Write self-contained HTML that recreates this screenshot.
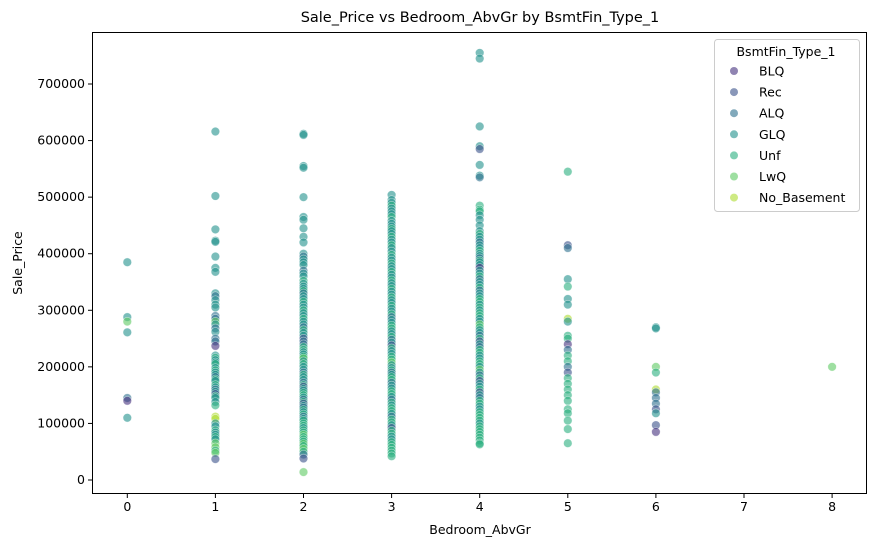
<!DOCTYPE html>
<html><head><meta charset="utf-8"><style>
body{margin:0;background:#fff;}
svg{font-family:"DejaVu Sans","Liberation Sans",sans-serif;}
</style></head><body>
<svg id="chart" width="877" height="547" viewBox="0 0 877 547" xmlns="http://www.w3.org/2000/svg">
<rect x="0" y="0" width="877" height="547" fill="#fff"/>
<text x="480" y="22" text-anchor="middle" font-size="14.5" fill="#000">Sale_Price vs Bedroom_AbvGr by BsmtFin_Type_1</text>
<g id="points"></g>
<g id="axes"></g>
<rect x="92.5" y="32.5" width="774" height="461" fill="none" stroke="#000" stroke-width="1"/>
<text x="480" y="534" text-anchor="middle" font-size="12.5" fill="#000">Bedroom_AbvGr</text>
<text x="22" y="263" text-anchor="middle" font-size="12.5" fill="#000" transform="rotate(-90 22 263)">Sale_Price</text>
<g id="legend">
<rect x="714.5" y="39.5" width="145" height="172" rx="3" fill="#fff" fill-opacity="0.8" stroke="#ccc"/>
<text x="786" y="56" text-anchor="middle" font-size="12.5" fill="#000">BsmtFin_Type_1</text>
</g>
</svg>
<script>
const categories = ["BLQ","Rec","ALQ","GLQ","Unf","LwQ","No_Basement"];
const categoryCodes = ["B","R","A","G","U","L","N"];
const palette = ["#46327e","#3b528b","#2d708e","#21918c","#29af7f","#5ec962","#addc30"];
const xTicks = [0,1,2,3,4,5,6,7,8];
const yTicks = [0,100000,200000,300000,400000,500000,600000,700000];
const bed0 = "385G 288G 280L 261G 145A 140B 110G";
const bed1 = "616G 502G 443G 423G 421G 395G 375G 368G 330G 325A 318G 310G 305G 290A 285A 280L 275G 268A 262G 250A 245A 237B 220G 216U 212G 208G 205U 198G 194U 190G 186G 182A 178U 175G 168U 164G 160A 156G 152R 148U 145G 138G 132U 112N 108N 100G 95G 88U 84G 80G 76U 72G 65L 58L 52U 48L 37R";
const bed2 = "612G 610G 555G 552G 500G 465G 460G 445G 430G 420G 400G 395A 390G 385G 380G 370A 365G 360G 352U 347G 342G 338G 334U 330A 325G 320G 315U 310G 305G 300U 295G 290G 285U 280G 275G 270A 265U 260G 255G 250R 245A 240A 235U 230U 226G 222G 218U 215L 210G 205U 200G 195G 190A 186U 182G 177G 172A 168U 165R 161G 158G 154U 150U 146G 142A 138U 135R 131G 128A 124U 120G 116U 112A 108G 105U 100U 96U 92G 88U 84U 80L 76U 72U 68U 64L 60U 55L 50U 45A 38R 14L";
const bed3 = "504G 495G 490G 485U 480G 475G 470G 465U 458G 453G 448G 444U 440G 435G 430U 425G 420G 415U 410G 404G 398U 393G 388G 383U 378G 373G 368U 363G 358G 353U 348G 343G 338U 333G 328G 323U 318G 313G 308U 303G 298G 293U 288A 283G 278G 273U 268U 263G 258G 253U 248A 243G 238R 233U 228G 223G 218U 213U 208L 203G 198G 194U 190A 186G 182U 177U 172A 167G 162G 157U 152U 147G 142A 137U 132G 127U 122U 117G 112A 107U 102U 97G 92R 87U 82U 77G 72G 67U 62U 57U 52U 47U 42U";
const bed4 = "755G 745G 625G 590G 585R 557G 538G 535A 485U 478U 475U 468G 460G 450G 440G 435U 430G 425G 420A 415G 410G 405U 400G 396G 392A 388U 385G 380G 375B 370G 365G 360U 355A 350G 345G 340U 335A 330G 325G 320U 315U 310G 305U 300G 295U 290U 285G 280G 275L 270U 265G 260G 255A 250U 245R 240G 235A 230U 225U 220G 215G 210U 205U 200G 195L 190G 185A 180U 175R 170G 165G 160U 155R 150G 145A 140U 135U 130G 125G 120U 115U 110U 105U 100G 95U 90U 85U 80U 75U 70U 65U 63U";
const bed5 = "545U 415R 410A 355G 342U 320G 310G 285N 280G 255U 250U 240B 230A 220U 210U 200A 190R 180U 170U 160U 150U 140U 125U 118U 105U 90U 65U";
const bed6 = "270G 268G 200L 190U 160N 155A 145A 135A 125R 118G 97R 85B";
const bed8 = "200L";
const columns = [[0,bed0],[1,bed1],[2,bed2],[3,bed3],[4,bed4],[5,bed5],[6,bed6],[8,bed8]];

const NS="http://www.w3.org/2000/svg";
const X0=92,X1=867,Y0=494,Y1=32;
function xScale(v){return 127.3+v*88.1;}
function yScale(v){return 480-v*(396/700000);}
const pts=document.getElementById('points');
columns.forEach(function(col){
  col[1].split(' ').forEach(function(tok){
    const price=parseFloat(tok)*1000;
    const ci=categoryCodes.indexOf(tok.slice(-1));
    const c=document.createElementNS(NS,'circle');
    c.setAttribute('cx',xScale(col[0]));
    c.setAttribute('cy',yScale(price));
    c.setAttribute('r',4.3);
    c.setAttribute('fill',palette[ci]);
    c.setAttribute('fill-opacity',0.6);
    c.setAttribute('stroke','#fff');
    c.setAttribute('stroke-opacity',0.6);
    c.setAttribute('stroke-width',0.6);
    
    
    pts.appendChild(c);
  });
});
const axes=document.getElementById('axes');
xTicks.forEach(function(t){
  const x=xScale(t);
  const l=document.createElementNS(NS,'line');
  l.setAttribute('x1',x);l.setAttribute('x2',x);l.setAttribute('y1',Y0);l.setAttribute('y2',Y0+4);
  l.setAttribute('stroke','#000');
  
  
  axes.appendChild(l);
  const tx=document.createElementNS(NS,'text');
  tx.setAttribute('x',x);tx.setAttribute('y',Y0+17);tx.setAttribute('text-anchor','middle');tx.setAttribute('font-size','12.5');
  tx.textContent=t;
  
  
  axes.appendChild(tx);
});
yTicks.forEach(function(t){
  const y=yScale(t);
  const l=document.createElementNS(NS,'line');
  l.setAttribute('x1',X0-4);l.setAttribute('x2',X0);l.setAttribute('y1',y);l.setAttribute('y2',y);
  l.setAttribute('stroke','#000');
  
  
  axes.appendChild(l);
  const tx=document.createElementNS(NS,'text');
  tx.setAttribute('x',X0-7);tx.setAttribute('y',y+4);tx.setAttribute('text-anchor','end');tx.setAttribute('font-size','12.5');
  tx.textContent=t;
  
  
  axes.appendChild(tx);
});
const lg=document.getElementById('legend');
categories.forEach(function(name,i){
  const y=71+i*21.1;
  const c=document.createElementNS(NS,'circle');
  c.setAttribute('cx',734);c.setAttribute('cy',y);c.setAttribute('r',4);
  c.setAttribute('fill',palette[i]);c.setAttribute('fill-opacity',0.6);
  
  
  lg.appendChild(c);
  const tx=document.createElementNS(NS,'text');
  tx.setAttribute('x',759);tx.setAttribute('y',y+4.5);tx.setAttribute('font-size','12.5');
  tx.textContent=name;
  
  
  lg.appendChild(tx);
});
</script>
</body></html>
